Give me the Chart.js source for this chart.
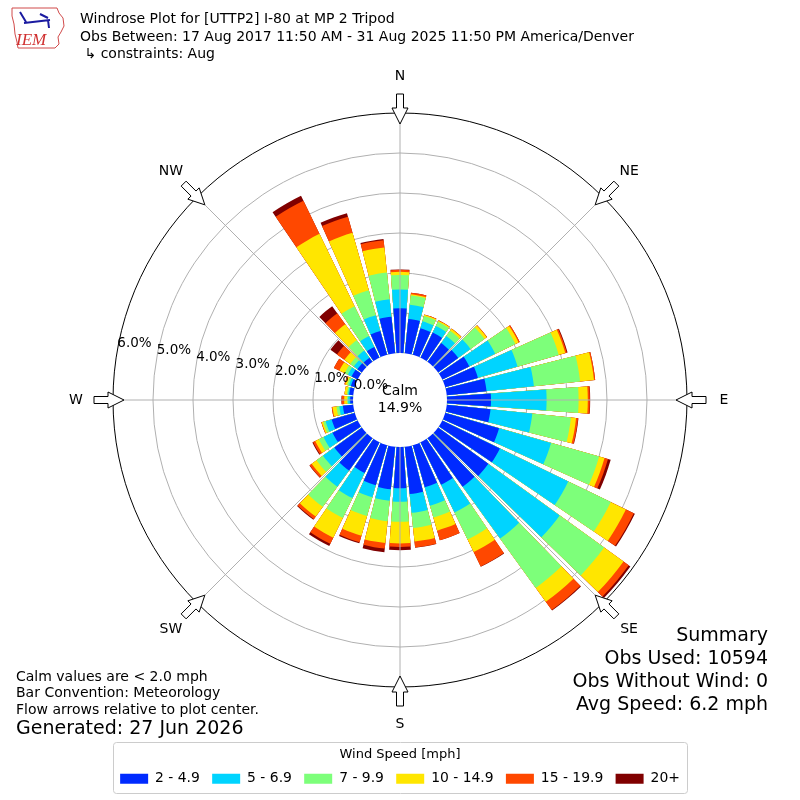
<!DOCTYPE html>
<html>
<head>
<meta charset="utf-8">
<script src="https://cdn.jsdelivr.net/npm/chart.js@4.4.1/dist/chart.umd.min.js"></script>
<style>
html,body{margin:0;padding:0;background:#fff;}
#wrap{width:800px;height:800px;position:relative;}
canvas{display:block;}
</style>
</head>
<body>
<div id="wrap"><canvas id="c" width="800" height="800"></canvas></div>
<script>
// ---------------- DATA ----------------
const DIRECTIONS = [0,10,20,30,40,50,60,70,80,90,100,110,120,130,140,150,160,170,
                    180,190,200,210,220,230,240,250,260,270,280,290,300,310,320,330,340,350];
const SPEED_LABELS = ['2 - 4.9', '5 - 6.9', '7 - 9.9', '10 - 14.9', '15 - 19.9', '20+'];
// frequency [%] of each speed bin per direction
const FREQ_2_5   = [1.12,.86,.69,.70,.58,.62,.75,.85,1.00,1.10,1.10,1.40,1.60,1.55,1.50,1.18,1.09,1.19,
                    1.03,1.07,1.04,.85,1.00,.85,.70,.60,.26,.07,.10,.10,.17,.14,.13,.30,.62,.92];
const FREQ_5_7   = [.47,.36,.18,.18,.22,.38,.72,1.03,1.19,1.39,1.05,1.35,1.90,2.20,1.60,.77,.48,.47,
                    .34,.29,.31,.70,.50,.35,.25,.16,.09,.05,.03,.05,.10,.11,.22,.30,.41,.44];
const FREQ_7_10  = [.36,.23,.14,.12,.16,.43,.56,1.07,1.16,.80,.97,1.25,1.18,1.37,1.52,.75,.31,.38,
                    .50,.51,.49,.55,.62,.20,.13,.06,.07,.03,.03,.05,.09,.11,.32,.83,.65,.67];
const FREQ_10_15 = [.08,.03,.03,.03,.06,.07,.09,.17,.35,.23,.13,.14,.42,.60,.43,.35,.34,.34,
                    .54,.55,.51,.55,.30,.15,.10,.04,.10,.07,.06,.05,.15,.18,.49,2.01,1.49,.63];
const FREQ_15_20 = [.05,.04,.01,.01,.01,.01,.03,.04,.03,.05,.05,.09,.22,.16,.25,.40,.25,.15,
                    .09,.14,.17,.17,.08,.06,.06,.01,.02,.06,0,.02,.15,.23,.34,.92,.42,.18];
const FREQ_20P   = [.01,0,0,0,0,0,0,.02,0,.01,.01,.07,.03,.05,.02,.01,0,.01,
                    .08,.09,.03,.06,.02,.01,.02,0,0,.01,0,0,0,.20,.22,.14,.09,.03];
const TICKS = [0, 1, 2, 3, 4, 5, 6];
const TICK_LABELS = ['0.0%', '1.0%', '2.0%', '3.0%', '4.0%', '5.0%', '6.0%'];
const CARDINALS = ['N', 'NE', 'E', 'SE', 'S', 'SW', 'W', 'NW'];
const CALM_PCT = 14.9;
const TITLE_LINES = ['Windrose Plot for [UTTP2] I-80 at MP 2 Tripod',
                     'Obs Between: 17 Aug 2017 11:50 AM - 31 Aug 2025 11:50 PM America/Denver',
                     ' \u21b3 constraints: Aug'];
const NOTES = ['Calm values are < 2.0 mph', 'Bar Convention: Meteorology', 'Flow arrows relative to plot center.'];
const GENERATED = 'Generated: 27 Jun 2026';
const SUMMARY = ['Summary', 'Obs Used: 10594', 'Obs Without Wind: 0', 'Avg Speed: 6.2 mph'];

// ---------------- STYLE ----------------
const SPEED_COLORS = ['#002aff', '#00d4ff', '#7dff7a', '#ffe600', '#ff4800', '#800000'];
const FONT = 'DejaVu Sans';
const BAR_DEG = 8.3, GAP_DEG = 1.7;
const CALM_PX = 47, OUTER_PX = 287;
const R_MAX = TICKS[TICKS.length - 1];
const R_MIN = -R_MAX * CALM_PX / (OUTER_PX - CALM_PX);

const FREQS = [FREQ_2_5, FREQ_5_7, FREQ_7_10, FREQ_10_15, FREQ_15_20, FREQ_20P];
const cumulative = FREQS.map((_, k) =>
  DIRECTIONS.map((d, i) => FREQS.slice(0, k + 1).reduce((s, a) => s + a[i], 0)));
const labels = [];
DIRECTIONS.forEach(d => { labels.push(d + '\u00b0'); labels.push(''); });

const datasets = SPEED_LABELS.map((lab, k) => ({
  label: lab,
  data: cumulative[k].flatMap(v => [v, 0]),
  backgroundColor: ctx => (ctx.dataIndex % 2 === 0 ? SPEED_COLORS[k] : 'rgba(0,0,0,0)'),
  borderWidth: 0,
  angle: ctx => (ctx.dataIndex % 2 === 0 ? BAR_DEG : GAP_DEG)
}));

function txt(ctx, s, x, y, size, align, base, color) {
  ctx.font = size + 'px "' + FONT + '"';
  ctx.textAlign = align || 'left';
  ctx.textBaseline = base || 'middle';
  ctx.fillStyle = color || '#000';
  ctx.fillText(s, x, y);
}

const decor = {
  id: 'decor',
  afterDatasetsDraw(chart) {
    const s = chart.scales.r, ctx = chart.ctx;
    ctx.save();
    ctx.beginPath();
    ctx.arc(s.xCenter, s.yCenter, s.getDistanceFromCenterForValue(0), 0, Math.PI * 2);
    ctx.fillStyle = '#fff';
    ctx.fill();
    ctx.restore();
  },
  afterDraw(chart) {
    const s = chart.scales.r, ctx = chart.ctx;
    const cx = s.xCenter, cy = s.yCenter;
    const r0 = s.getDistanceFromCenterForValue(0);
    const rOut = s.getDistanceFromCenterForValue(R_MAX);
    ctx.save();
    // radial grid lines
    ctx.strokeStyle = '#b0b0b0';
    ctx.lineWidth = 1;
    for (let i = 0; i < 8; i++) {
      const a = i * Math.PI / 4;
      ctx.beginPath();
      ctx.moveTo(cx + r0 * Math.sin(a), cy - r0 * Math.cos(a));
      ctx.lineTo(cx + rOut * Math.sin(a), cy - rOut * Math.cos(a));
      ctx.stroke();
    }
    // tick labels
    const la = 10 * Math.PI / 180;
    TICKS.forEach((v, i) => {
      const r = s.getDistanceFromCenterForValue(v);
      txt(ctx, TICK_LABELS[i], cx - r * Math.cos(la), cy - r * Math.sin(la), 13.5, 'left', 'bottom');
    });
    // cardinal labels + arrows
    CARDINALS.forEach((c, i) => {
      const a = i * Math.PI / 4;
      const ux = Math.sin(a), uy = -Math.cos(a);
      const vx = -uy, vy = ux;
      txt(ctx, c, cx + 324 * ux, cy + 324 * uy, 14, 'center', 'middle');
      const P = (r, w) => [cx + r * ux + w * vx, cy + r * uy + w * vy];
      const pts = [P(306, -3.5), P(306, 3.5), P(292, 3.5), P(292, 8), P(276, 0), P(292, -8), P(292, -3.5)];
      ctx.beginPath();
      ctx.moveTo(pts[0][0], pts[0][1]);
      for (let k = 1; k < pts.length; k++) ctx.lineTo(pts[k][0], pts[k][1]);
      ctx.closePath();
      ctx.fillStyle = '#fff';
      ctx.fill();
      ctx.strokeStyle = '#000';
      ctx.lineWidth = 1;
      ctx.stroke();
    });
    // calm
    txt(ctx, 'Calm', cx, cy - 9, 14, 'center', 'middle');
    txt(ctx, CALM_PCT.toFixed(1) + '%', cx, cy + 8, 14, 'center', 'middle');
    // titles
    txt(ctx, TITLE_LINES[0], 80, 19, 14);
    txt(ctx, TITLE_LINES[1], 80, 37, 14);
    txt(ctx, TITLE_LINES[2], 80, 54, 14);
    // notes
    NOTES.forEach((n, i) => txt(ctx, n, 16, 677 + i * 16.5, 14));
    txt(ctx, GENERATED, 16, 729, 19);
    SUMMARY.forEach((n, i) => txt(ctx, n, 768, 636 + i * 23, 19, 'right'));
    // legend frame
    const lg = chart.legend;
    ctx.strokeStyle = '#cccccc';
    ctx.lineWidth = 1;
    ctx.beginPath();
    ctx.roundRect(Math.round(cx - OUTER_PX) + 0.5, Math.round(lg.top + 54.3) + 0.5, 2 * OUTER_PX, 51, 3);
    ctx.stroke();
    // logo
    ctx.strokeStyle = '#d04a4a';
    ctx.lineWidth = 1;
    ctx.beginPath();
    const logo = [[12,8],[57,8],[59,13],[63,18],[64,26],[61,32],[58,37],[59,44],[55,48],[18,48],[17,42],[15,34],[14,24],[12,16]];
    ctx.moveTo(logo[0][0], logo[0][1]);
    logo.slice(1).forEach(p => ctx.lineTo(p[0], p[1]));
    ctx.closePath();
    ctx.stroke();
    ctx.strokeStyle = '#1a1aa0';
    ctx.lineWidth = 2;
    ctx.beginPath();
    ctx.moveTo(24, 23); ctx.lineTo(50, 20);
    ctx.moveTo(20, 12); ctx.lineTo(26, 22);
    ctx.moveTo(40, 14); ctx.lineTo(48, 18);
    ctx.moveTo(48, 20); ctx.lineTo(49, 28);
    ctx.stroke();
    ctx.font = 'italic 17px "Liberation Serif"';
    ctx.fillStyle = '#d03030';
    ctx.textAlign = 'left';
    ctx.textBaseline = 'alphabetic';
    ctx.fillText('IEM', 16, 45);
    ctx.restore();
  }
};

new Chart(document.getElementById('c'), {
  type: 'polarArea',
  data: { labels: labels, datasets: datasets },
  options: {
    responsive: false,
    animation: false,
    events: [],
    layout: { padding: { top: 113, bottom: 4.35, left: 100, right: 100 } },
    scales: {
      r: {
        min: R_MIN,
        max: R_MAX,
        startAngle: -BAR_DEG / 2,
        z: 1,
        ticks: { display: false },
        pointLabels: { display: false },
        angleLines: { display: false },
        grid: {
          circular: true,
          lineWidth: 1,
          color: c => (c.tick && (c.tick.value === 0 || c.tick.value === R_MAX) ? '#000' : '#b0b0b0')
        },
        afterBuildTicks: sc => { sc.ticks = TICKS.map(v => ({ value: v })); }
      }
    },
    plugins: {
      tooltip: { enabled: false },
      legend: {
        position: 'bottom',
        onClick: () => {},
        title: {
          display: true,
          text: 'Wind Speed [mph]',
          color: '#000',
          padding: { top: 61, bottom: 1.25 },
          font: { family: FONT, size: 13, lineHeight: '10px' }
        },
        labels: {
          color: '#000',
          font: { family: FONT, size: 13.9 },
          boxWidth: 28,
          boxHeight: 10,
          padding: 12.3,
          generateLabels: chart => chart.data.datasets.map((ds, i) => ({
            text: ds.label, fillStyle: SPEED_COLORS[i], strokeStyle: SPEED_COLORS[i],
            lineWidth: 0, hidden: false, datasetIndex: i
          }))
        }
      }
    }
  },
  plugins: [decor]
});
</script>
</body>
</html>
